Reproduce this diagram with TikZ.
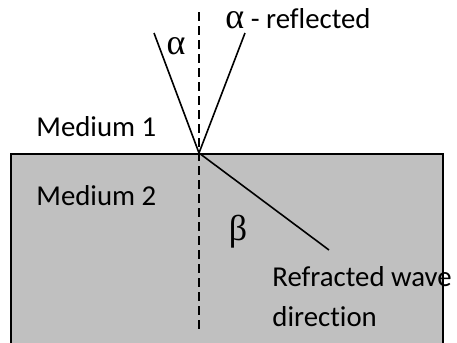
\documentclass[tikz,border=0pt]{standalone}
\usepackage{fontspec}
\setmainfont{Carlito}[Ligatures=NoCommon]
\newfontfamily\greekfont{Liberation Serif}
\usepackage{tikz}
\usetikzlibrary{positioning,calc}
\definecolor{mediumgray}{RGB}{192,192,192}
\newcommand\grk[1]{{\greekfont\fontsize{18}{20}\selectfont #1}}
\tikzset{
  label text/.style={inner sep=0pt,font=\fontsize{14.4}{20}\selectfont},
  ray/.style={line width=0.8pt},
  normal line/.style={line width=0.7pt,dash pattern=on 4.5pt off 2.5pt}
}

\begin{document}
\begin{tikzpicture}[x=0.5pt,y=-0.5pt]
  \useasboundingbox (0,0) rectangle (457,343);
  % medium 2 block
  \draw[fill=mediumgray,line width=1pt] (11,154) rectangle (443,344);
  % points of the rays
  \coordinate (hit) at (199,153);
  \coordinate (normtop) at (199,12);
  \coordinate (normbot) at (199,333);
  \coordinate (inc) at (154,33);
  \coordinate (refl) at (245,33);
  \coordinate (refr) at (329,250);
  % normal and rays
  \draw[normal line] (normtop) -- (normbot);
  \draw[ray] (inc) -- (hit);
  \draw[ray] (hit) -- (refl);
  \draw[ray] (hit) -- (refr);
  % labels
  \node[label text] (alpha) at (176,46) {\grk{α}};
  \node[label text,anchor=west] (reflected) at (225,19) {\grk{α} - reflected};
  \node[label text,anchor=west] (med1) at (36,127) {Medium 1};
  \node[label text,anchor=west] (med2) at (36,196) {Medium 2};
  \node[label text] (beta) at (238,232) {\grk{β}};
  \node[label text,anchor=west,align=left] (refracted) at (272,297)
    {Refracted wave\\direction};
\end{tikzpicture}
\end{document}
